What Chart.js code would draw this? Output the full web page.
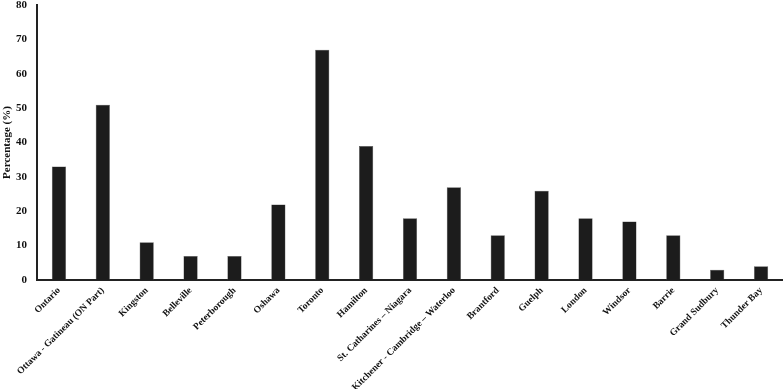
<!DOCTYPE html>
<html>
<head>
<meta charset="utf-8">
<script src="https://cdn.jsdelivr.net/npm/chart.js@4"></script>
<style>
  html, body { margin: 0; padding: 0; background: #fff; }
  #wrap { width: 783px; height: 389px; }
</style>
</head>
<body>
<div id="wrap"><canvas id="chart"></canvas></div>
<script>
const regions = ["Ontario", "Ottawa - Gatineau (ON Part)", "Kingston", "Belleville", "Peterborough", "Oshawa", "Toronto", "Hamilton", "St. Catharines – Niagara", "Kitchener - Cambridge – Waterloo", "Brantford", "Guelph", "London", "Windsor", "Barrie", "Grand Sudbury", "Thunder Bay"];
const percentages = [33, 51, 11, 7, 7, 22, 67, 39, 18, 27, 13, 26, 18, 17, 13, 3, 4];
const yTicks = [0, 10, 20, 30, 40, 50, 60, 70, 80];

const serif = "'Liberation Serif', 'DejaVu Serif', serif";

new Chart(document.getElementById("chart"), {
  type: "bar",
  data: {
    labels: regions,
    datasets: [{ data: percentages, backgroundColor: "#1c1c1c", borderColor: "#555", borderWidth: 0.5, barPercentage: 0.36, categoryPercentage: 0.9 }]
  },
  options: {
    responsive: true,
    maintainAspectRatio: false,
    animation: false,
    layout: { padding: 0 },
    plugins: { legend: { display: false }, tooltip: { enabled: false } },
    scales: {
      x: {
        afterFit: axis => { axis.height = 109; axis.paddingLeft = 0; axis.paddingRight = 0; },
        grid: { display: false, drawTicks: false },
        border: { color: "#222", width: 2 },
        ticks: { color: "#111", minRotation: 45, maxRotation: 45, autoSkip: false, padding: 5, font: { family: serif, size: 9.5, weight: "bold" } }
      },
      y: {
        min: 0, max: 80,
        afterBuildTicks: axis => { axis.ticks = yTicks.map(v => ({ value: v })); },
        afterFit: axis => { axis.width = 37; axis.paddingTop = 5; axis.paddingBottom = 0; },
        grid: { display: false, drawTicks: false },
        border: { color: "#222", width: 2 },
        title: { display: true, text: "Percentage (%)", color: "#111", padding: 1, font: { family: serif, size: 11, weight: "bold" } },
        ticks: { color: "#111", padding: 10, font: { family: serif, size: 11, weight: "bold" } }
      }
    }
  }
});
</script>
</body>
</html>
